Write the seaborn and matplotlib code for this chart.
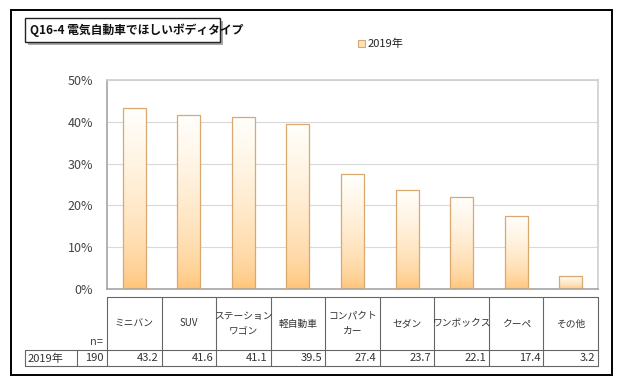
import numpy as np
import pandas as pd
import matplotlib
matplotlib.use("Agg")
import matplotlib.pyplot as plt
from matplotlib.patches import Rectangle
import seaborn as sns

# data
categories = ["ミニバン", "SUV", "ステーション\nワゴン", "軽自動車", "コンパクト\nカー",
              "セダン", "ワンボックス", "クーペ", "その他"]
values_2019 = [43.2, 41.6, 41.1, 39.5, 27.4, 23.7, 22.1, 17.4, 3.2]
n_2019 = 190
series_name = "2019年"
title = "Q16-4 電気自動車でほしいボディタイプ"
yticks = [0, 10, 20, 30, 40, 50]

sns.set_theme(style="white")
plt.rcParams["font.family"] = ["Noto Sans CJK JP", "DejaVu Sans"]

W, H = 620, 384
fig = plt.figure(figsize=(W / 100, H / 100), dpi=100)

def px(x0, y0, x1, y1):
    # pixel box (top-left origin) -> figure fraction rect
    return [x0 / W, 1 - y1 / H, (x1 - x0) / W, (y1 - y0) / H]

# main plot
ax = fig.add_axes(px(107, 80, 598, 289))
df = pd.DataFrame({"cat": categories, "val": values_2019})
sns.barplot(data=df, x="cat", y="val", ax=ax, width=0.42, color="#FFD79E",
            edgecolor="#D9A870", linewidth=0.9)

orange = np.array([255, 192, 110]) / 255
white = np.array([255, 255, 252]) / 255
t = np.linspace(0, 1, 200)[:, None]
f = t ** 0.55
grad = orange[None, None, :] * (1 - f[:, :, None]) + white[None, None, :] * f[:, :, None]

for p in ax.patches:
    x, y, w, h = p.get_x(), p.get_y(), p.get_width(), p.get_height()
    p.set_facecolor("none")
    p.set_zorder(3)
    im = ax.imshow(grad, extent=[x, x + w, y, y + h], origin="lower",
                   aspect="auto", zorder=2)
    im.set_clip_path(p)

ax.set_xlim(-0.5, len(categories) - 0.5)
ax.set_ylim(0, 50)
ax.set_yticks(yticks)
ax.set_yticklabels([f"{v}%" for v in yticks], fontsize=9, color="#444444")
ax.tick_params(axis="y", pad=10, length=0)
ax.set_xticks([])
ax.set_xlabel("")
ax.set_ylabel("")
ax.grid(axis="y", color="#D9D9D9", linewidth=0.8)
ax.set_axisbelow(True)
for s in ["top", "right"]:
    ax.spines[s].set_color("#D0D0D0")
for s in ["left", "bottom"]:
    ax.spines[s].set_color("#A8A8A8")

# table below the chart, in pixel coords
tab = fig.add_axes(px(20, 294, 600, 368))
tab.set_xlim(20, 600)
tab.set_ylim(368, 294)
tab.axis("off")
lc = "#666666"
x0c, x1c = 107, 598
cw = (x1c - x0c) / len(categories)
top, mid, bot = 297, 350, 366
tab.plot([x0c, x1c], [top, top], color=lc, lw=0.8)
tab.plot([25, x1c], [mid, mid], color=lc, lw=0.8)
tab.plot([25, x1c], [bot, bot], color=lc, lw=0.8)
for i in range(len(categories) + 1):
    xx = x0c + i * cw
    tab.plot([xx, xx], [top, bot], color=lc, lw=0.8)
for xx in [25, 77]:
    tab.plot([xx, xx], [mid, bot], color=lc, lw=0.8)

txt = "#333333"
for i, (c, v) in enumerate(zip(categories, values_2019)):
    cx = x0c + (i + 0.5) * cw
    tab.text(cx, (top + mid) / 2, c, ha="center", va="center", fontsize=7,
             color=txt, linespacing=1.7)
    tab.text(x0c + (i + 1) * cw - 3, (mid + bot) / 2 + 0.5, f"{v}", ha="right",
             va="center", fontsize=8, color=txt)
tab.text(103, mid - 3, "n=", ha="right", va="bottom", fontsize=8, color="#444444")
tab.text(28, (mid + bot) / 2 + 0.5, series_name, ha="left", va="center",
         fontsize=8, color=txt)
tab.text(104, (mid + bot) / 2 + 0.5, str(n_2019), ha="right", va="center",
         fontsize=8, color=txt)

# overlay for frame, title box and legend
ov = fig.add_axes([0, 0, 1, 1], zorder=-1)
ov.set_xlim(0, W)
ov.set_ylim(H, 0)
ov.axis("off")
ov.add_patch(Rectangle((11, 10), 601, 365, fill=False, edgecolor="black", lw=1.4))

ov2 = fig.add_axes([0, 0, 1, 1], zorder=5)
ov2.set_xlim(0, W)
ov2.set_ylim(H, 0)
ov2.axis("off")
ov2.patch.set_alpha(0)
ov2.add_patch(Rectangle((28, 21), 195, 24, facecolor="#A8A8A8", edgecolor="none"))
ov2.add_patch(Rectangle((25, 18), 195, 24, facecolor="white", edgecolor="#222222", lw=1.0))
ov2.text(30, 30.5, title, ha="left", va="center", fontsize=8.5, fontweight="bold",
         color="#111111")

ov2.add_patch(Rectangle((358, 40), 7, 7, facecolor="#FFE2B8", edgecolor="#D9A870", lw=0.8))
ov2.text(368, 44, series_name, ha="left", va="center", fontsize=8, color="#222222")

fig.savefig("out.png", dpi=100)
